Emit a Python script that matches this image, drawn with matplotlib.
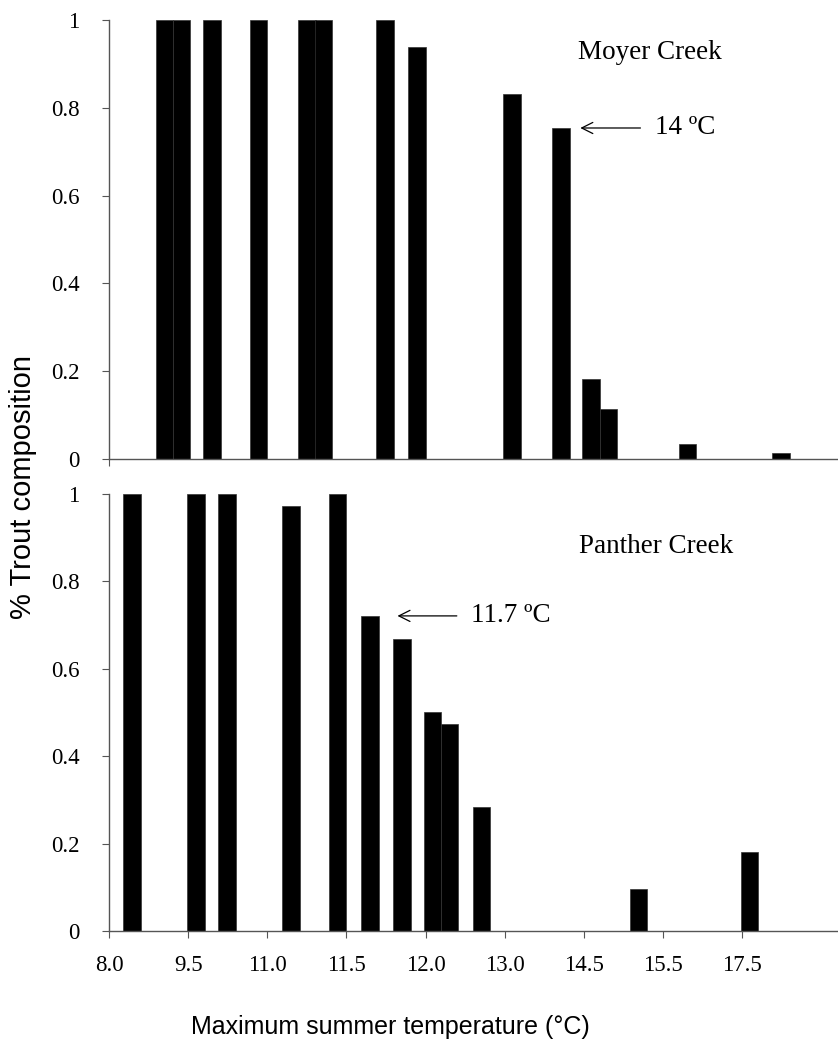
import numpy as np
import matplotlib
matplotlib.use("Agg")
import matplotlib.pyplot as plt

# bar positions are on the chart's own (category-like) axis, one unit per tick
moyer_pos = [0.70, 0.92, 1.30, 1.89, 2.50, 2.71, 3.49, 3.89, 5.09, 5.71, 6.09, 6.31, 7.31, 8.49]
moyer_val = [1.0, 1.0, 1.0, 1.0, 1.0, 1.0, 1.0, 0.938, 0.831, 0.754, 0.182, 0.114, 0.034, 0.014]

panther_pos = [0.29, 1.10, 1.49, 2.30, 2.89, 3.30, 3.70, 4.09, 4.30, 4.71, 6.69, 8.09]
panther_val = [1.0, 1.0, 1.0, 0.973, 1.0, 0.721, 0.668, 0.501, 0.474, 0.284, 0.096, 0.18]

tick_labels = ["8.0", "9.5", "11.0", "11.5", "12.0", "13.0", "14.5", "15.5", "17.5"]
y_ticks = [0, 0.2, 0.4, 0.6, 0.8, 1.0]
y_labels = ["0", "0.2", "0.4", "0.6", "0.8", "1"]

serif = "Liberation Serif"
sans = "Liberation Sans"
bar_w = 0.22
axcol = "#555555"

fig = plt.figure(figsize=(8.38, 10.47), dpi=100)
ax1 = fig.add_axes([0.130, 0.5616, 0.869, 0.4193])
ax2 = fig.add_axes([0.130, 0.1108, 0.869, 0.4174])

for ax in (ax1, ax2):
    ax.set_xlim(0, 9.2)
    ax.set_ylim(0, 1)
    for s in ("top", "right"):
        ax.spines[s].set_visible(False)
    for s in ("left", "bottom"):
        ax.spines[s].set_color(axcol)
        ax.spines[s].set_linewidth(1)
    ax.set_yticks(y_ticks)
    ax.set_yticklabels(y_labels, fontfamily=serif, fontsize=16.5)
    ax.tick_params(axis="y", direction="out", length=5, width=0.8, color=axcol, pad=16)
    ax.tick_params(axis="x", direction="out", length=5, width=0.8, color=axcol, pad=12)

ax1.bar(moyer_pos, moyer_val, width=bar_w, color="black", edgecolor="#333333", linewidth=0.5)
ax2.bar(panther_pos, panther_val, width=bar_w, color="black", edgecolor="#333333", linewidth=0.5)

ax1.set_xticks([0])
ax1.set_xticklabels([""])

ax2.set_xticks(np.arange(len(tick_labels)))
ax2.set_xticklabels(tick_labels, fontfamily=serif, fontsize=16.5)

# site names and threshold annotations
ax1.text(6.83, 0.925, "Moyer Creek", fontfamily=serif, fontsize=19.5, ha="center", va="center")
ax1.annotate("", xy=(5.92, 0.754), xytext=(6.75, 0.754),
             arrowprops=dict(arrowstyle="->", color="black", lw=0.9, mutation_scale=20))
ax1.text(6.90, 0.754, "14 \u00baC", fontfamily=serif, fontsize=19.5, ha="left", va="center")

ax2.text(6.91, 0.879, "Panther Creek", fontfamily=serif, fontsize=19.5, ha="center", va="center")
ax2.annotate("", xy=(3.61, 0.721), xytext=(4.43, 0.721),
             arrowprops=dict(arrowstyle="->", color="black", lw=0.9, mutation_scale=20))
ax2.text(4.58, 0.721, "11.7 \u00baC", fontfamily=serif, fontsize=19.5, ha="left", va="center")

fig.text(0.028, 0.535, "% Trout composition", rotation=90, fontfamily=sans, fontsize=21,
         ha="center", va="center")
fig.text(0.466, 0.019, "Maximum summer temperature (\u00b0C)", fontfamily=sans, fontsize=18,
         ha="center", va="center")

fig.savefig("out.png", dpi=100)
